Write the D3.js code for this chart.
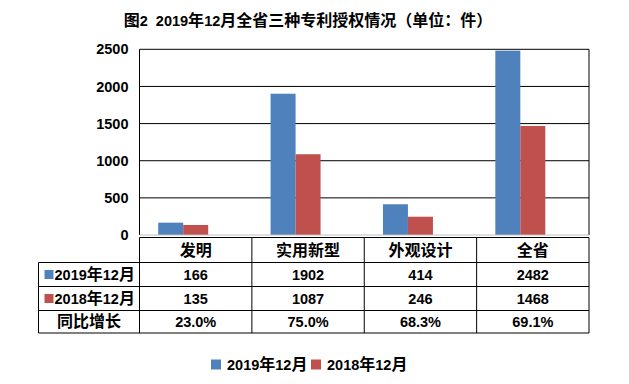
<!DOCTYPE html>
<html><head><meta charset="utf-8">
<script src="https://cdn.jsdelivr.net/npm/d3@7/dist/d3.min.js"></script>
<style>body{margin:0;background:#fff}svg{display:block}</style>
</head><body>
<svg id="c" width="629" height="384"></svg>
<script>
const title = "图2  2019年12月全省三种专利授权情况（单位：件）";
const categories = ["发明", "实用新型", "外观设计", "全省"];
const seriesNames = ["2019年12月", "2018年12月"];
const values2019 = [166, 1902, 414, 2482];
const values2018 = [135, 1087, 246, 1468];
const growth = ["23.0%", "75.0%", "68.3%", "69.1%"];
const growthLabel = "同比增长";
const yTicks = [0, 500, 1000, 1500, 2000, 2500];
const colors = ["#4F81BD", "#C0504D"];

const svg = d3.select("#c");
const ASCII = '"Liberation Sans", Arial, sans-serif';
const CJK = '"Noto Sans CJK SC", sans-serif';

function rich(sel, str, cjkSize, asciiSize) {
  const runs = str.match(/[\x00-\x7F]+|[^\x00-\x7F]+/g) || [];
  runs.forEach(r => {
    const ascii = /^[\x00-\x7F]+$/.test(r);
    sel.append("tspan").text(r)
      .attr("font-family", ascii ? ASCII : CJK)
      .attr("font-size", ascii ? asciiSize : cjkSize)
      .attr("font-weight", "bold");
  });
  return sel;
}

const L = 139.5, R = 589, T = 49.3, B = 235;
const x = d3.scaleBand().domain(categories).range([L, R]).padding(0);
const xs = d3.scaleBand().domain(seriesNames).range([18.7, 68.7]).padding(0);
const y = d3.scaleLinear().domain([0, 2500]).range([B, T]);

// Title
rich(svg.append("text").attr("x", 308).attr("y", 25.5).attr("text-anchor", "middle").attr("fill", "#000")
  .style("white-space", "pre").attr("xml:space", "preserve"),
  title, 16, 14.5);

// gridlines
svg.append("g").selectAll("line").data(yTicks.filter(d => d > 0)).join("line")
  .attr("x1", L).attr("x2", R).attr("y1", d => y(d)).attr("y2", d => y(d))
  .attr("stroke", "#000").attr("stroke-width", 1);
svg.append("line").attr("x1", L).attr("x2", L).attr("y1", T).attr("y2", B).attr("stroke", "#000");
svg.append("line").attr("x1", R).attr("x2", R).attr("y1", T).attr("y2", B).attr("stroke", "#000");

// bars
const data = categories.map((c, i) => ({c, v: [values2019[i], values2018[i]]}));
const g = svg.append("g").selectAll("g").data(data).join("g")
  .attr("transform", d => `translate(${x(d.c)},0)`);
g.selectAll("rect").data(d => d.v.map((v, j) => ({s: seriesNames[j], v, j}))).join("rect")
  .attr("x", d => xs(d.s)).attr("width", xs.bandwidth())
  .attr("y", d => y(d.v)).attr("height", d => B - y(d.v))
  .attr("fill", d => colors[d.j]);

svg.append("line").attr("x1", L).attr("x2", R).attr("y1", B).attr("y2", B).attr("stroke", "#BFBFBF");

const yAxis = d3.axisLeft(y).tickValues(yTicks).tickFormat(d3.format("d")).tickSize(0).tickPadding(0);
const ya = svg.append("g").attr("transform", `translate(128.5,0)`).call(yAxis);
ya.select(".domain").remove();
ya.selectAll("text").attr("font-family", ASCII).attr("font-size", 14.5).attr("font-weight", "bold").attr("fill", "#000");

// Table
const rowsY = [237.5, 262.5, 286.5, 310.5, 333];
const TL = 38.5;
const tg = svg.append("g").attr("stroke", "#000").attr("stroke-width", 1);
tg.append("line").attr("x1", L).attr("x2", R).attr("y1", rowsY[0]).attr("y2", rowsY[0]);
rowsY.slice(1).forEach(yy => tg.append("line").attr("x1", TL).attr("x2", R).attr("y1", yy).attr("y2", yy));
tg.append("line").attr("x1", TL).attr("x2", TL).attr("y1", rowsY[1]).attr("y2", rowsY[4]);
const bounds = categories.map(c => x(c)).concat([R]);
bounds.forEach(bx => tg.append("line").attr("x1", bx).attr("x2", bx).attr("y1", rowsY[0]).attr("y2", rowsY[4]));

const rowMid = i => (rowsY[i] + rowsY[i + 1]) / 2;
categories.forEach(c => {
  rich(svg.append("text").attr("x", x(c) + x.bandwidth() / 2).attr("y", rowMid(0) + 5.5)
    .attr("text-anchor", "middle").attr("fill", "#000"), c, 16, 14.5);
});
[values2019, values2018].forEach((vals, j) => {
  const my = rowMid(j + 1);
  svg.append("rect").attr("x", 44.5).attr("y", my - 4.5).attr("width", 9).attr("height", 9).attr("fill", colors[j]);
  rich(svg.append("text").attr("x", 54.5).attr("y", my + 5.5).attr("fill", "#000"), seriesNames[j], 16, 14.5);
  vals.forEach((v, i) => {
    svg.append("text").attr("x", x(categories[i]) + x.bandwidth() / 2).attr("y", my + 5.5)
      .attr("text-anchor", "middle").attr("font-family", ASCII).attr("font-size", 14.5)
      .attr("font-weight", "bold").attr("fill", "#000").text(d3.format("d")(v));
  });
});
{
  const my = rowMid(3);
  rich(svg.append("text").attr("x", (TL + L) / 2).attr("y", my + 5.5).attr("text-anchor", "middle").attr("fill", "#000"),
    growthLabel, 16, 14.5);
  growth.forEach((s, i) => {
    svg.append("text").attr("x", x(categories[i]) + x.bandwidth() / 2).attr("y", my + 5.5)
      .attr("text-anchor", "middle").attr("font-family", ASCII).attr("font-size", 14.5)
      .attr("font-weight", "bold").attr("fill", "#000").text(s);
  });
}

const legX = [211, 311];
seriesNames.forEach((s, j) => {
  svg.append("rect").attr("x", legX[j]).attr("y", 359.5).attr("width", 10).attr("height", 10).attr("fill", colors[j]);
  rich(svg.append("text").attr("x", legX[j] + 16).attr("y", 370).attr("fill", "#000"), s, 16, 14.5);
});
</script>
</body></html>
